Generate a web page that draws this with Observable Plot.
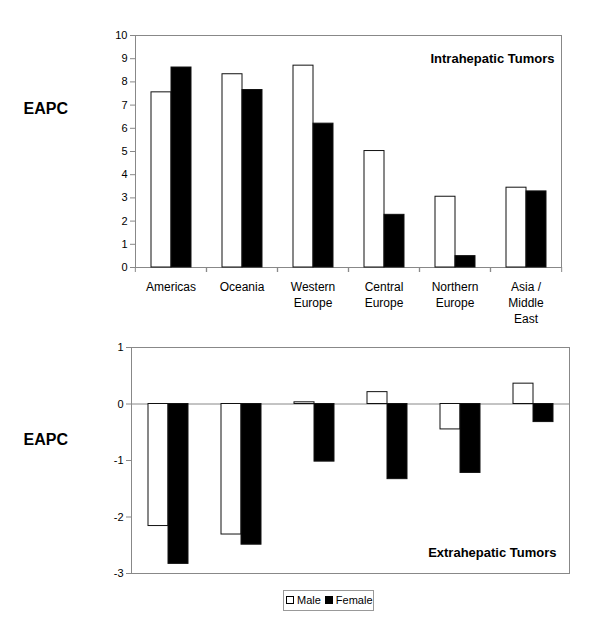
<!DOCTYPE html>
<html>
<head>
<meta charset="utf-8">
<script src="https://cdn.jsdelivr.net/npm/d3@7"></script>
<script src="https://cdn.jsdelivr.net/npm/@observablehq/plot@0.6"></script>
<style>
  body { margin: 0; background: #fff; font-family: "Liberation Sans", Arial, sans-serif; }
  #chart { width: 600px; }
  #chart svg { display: block; }
  .legend { margin: 5px 0 0 283px; width: 89px; height: 19px; line-height: 19px; border: 1px solid #999;
    text-align: center; white-space: nowrap; font-size: 11px; color: #000; box-sizing: content-box; }
  .item { display: inline-block; margin: 0 2px; }
  .sw { display: inline-block; width: 6px; height: 6px; border: 1px solid #000; margin-right: 3px; vertical-align: 0px; }
</style>
</head>
<body>
<div id="chart"></div>
<script>
const regions = ["Americas", "Oceania", "Western\nEurope", "Central\nEurope", "Northern\nEurope", "Asia /\nMiddle\nEast"];
const sexes = ["Male", "Female"];
const maleIntra = [7.55, 8.33, 8.7, 5.02, 3.05, 3.44];
const femaleIntra = [8.62, 7.65, 6.2, 2.27, 0.49, 3.28];
const maleExtra = [-2.16, -2.31, 0.03, 0.21, -0.45, 0.36];
const femaleExtra = [-2.83, -2.49, -1.02, -1.33, -1.22, -0.32];
const intraTicks = [0, 1, 2, 3, 4, 5, 6, 7, 8, 9, 10];
const extraTicks = [-3, -2, -1, 0, 1];

function rows(m, f) {
  return regions.flatMap((r, i) => [
    {region: r, sex: "Male", value: m[i]},
    {region: r, sex: "Female", value: f[i]}
  ]);
}
const intra = rows(maleIntra, femaleIntra);
const extra = rows(maleExtra, femaleExtra);

const font = "Liberation Sans, Arial, sans-serif";
const gray = "#888";
const fmt = d => `${d}`;

// top chart
const W = 600, topML = 134, topMR = 38;
const topStep = (W - topML - topMR) / regions.length;
const topChart = Plot.plot({
  width: W, height: 330,
  marginTop: 35, marginBottom: 63, marginLeft: topML, marginRight: topMR,
  style: {fontFamily: font, fontSize: "11px", color: "#000", background: "#fff"},
  fx: {domain: regions, padding: 0, axis: null},
  x: {domain: sexes, paddingInner: 0, paddingOuter: 0.75, axis: null},
  y: {domain: [0, 10], axis: null},
  color: {domain: sexes, range: ["#fff", "#000"]},
  marks: [
    Plot.frame({stroke: gray, facet: "super"}),
    Plot.barY(intra, {fx: "region", x: "sex", y: "value", fill: "sex", stroke: "#111", strokeWidth: 1}),
    Plot.axisY({ticks: intraTicks, tickFormat: fmt, tickSize: 5, tickPadding: 3, stroke: gray, fill: "#000", label: null, fontSize: 11}),
    Plot.axisFx({anchor: "bottom", tickSize: 0, tickPadding: 12, label: null, fontSize: 12, lineHeight: 1.33}),
    Plot.axisFx({anchor: "bottom", tickSize: 5, tickFormat: null, label: null, stroke: gray, dx: -topStep / 2}),
    Plot.axisFx({anchor: "bottom", tickSize: 5, tickFormat: null, label: null, stroke: gray, dx: topStep / 2}),
    Plot.text(["Intrahepatic Tumors"], {frameAnchor: "top-right", textAnchor: "end", dx: -7, dy: 18, fontWeight: "bold", fontSize: 13, facet: "super"}),
    Plot.text(["EAPC"], {frameAnchor: "top-left", textAnchor: "start", dx: -112, dy: 67, fontWeight: "bold", fontSize: 16, facet: "super"})
  ]
});

// bottom chart
const botML = 130, botMR = 30;
const bottomChart = Plot.plot({
  width: W, height: 255,
  marginTop: 17, marginBottom: 12, marginLeft: botML, marginRight: botMR,
  style: {fontFamily: font, fontSize: "11px", color: "#000", background: "#fff"},
  fx: {domain: regions, padding: 0, axis: null},
  x: {domain: sexes, paddingInner: 0, paddingOuter: 0.75, axis: null},
  y: {domain: [-3, 1], axis: null},
  color: {domain: sexes, range: ["#fff", "#000"]},
  marks: [
    Plot.frame({stroke: gray, facet: "super"}),
    Plot.ruleY([0], {stroke: gray}),
    Plot.barY(extra, {fx: "region", x: "sex", y: "value", fill: "sex", stroke: "#111", strokeWidth: 1}),
    Plot.axisY({ticks: extraTicks, tickFormat: fmt, tickSize: 5, tickPadding: 3, stroke: gray, fill: "#000", label: null, fontSize: 11}),
    Plot.text(["Extrahepatic Tumors"], {frameAnchor: "bottom-right", textAnchor: "end", dx: -13, dy: -17, fontWeight: "bold", fontSize: 13, facet: "super"}),
    Plot.text(["EAPC"], {frameAnchor: "top-left", textAnchor: "start", dx: -108, dy: 86, fontWeight: "bold", fontSize: 16, facet: "super"})
  ]
});

const chart = document.getElementById("chart");
chart.appendChild(topChart);
chart.appendChild(bottomChart);

const legend = document.createElement("div");
legend.className = "legend";
legend.innerHTML = sexes.map((s, i) =>
  `<span class="item"><span class="sw" style="background:${i === 0 ? "#fff" : "#000"}"></span>${s}</span>`).join("");
chart.appendChild(legend);
</script>
</body>
</html>
